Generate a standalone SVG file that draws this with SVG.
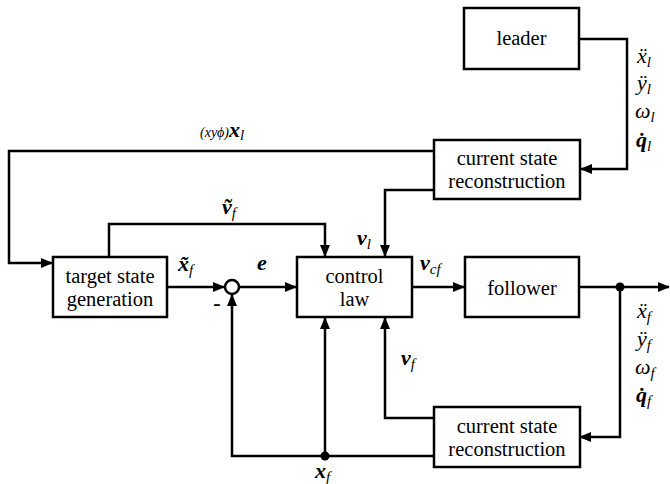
<svg xmlns="http://www.w3.org/2000/svg" width="670" height="484" viewBox="0 0 670 484">
<style>
.box{fill:#fff;stroke:#000;stroke-width:2.5}
.ln{fill:none;stroke:#000;stroke-width:2.5}
text{font-family:'Liberation Serif','Times New Roman',Times,serif;fill:#000}
.t{font-size:20.5px;text-anchor:middle}
.m{font-style:italic;font-size:22px}
.b{font-weight:bold}
.s{font-size:15px}
</style>
<defs>
<marker id="ah" markerWidth="12" markerHeight="10" refX="11" refY="5" orient="auto" markerUnits="userSpaceOnUse">
<path d="M0,0 L12,5 L0,10 Z" fill="#000"/>
</marker>
</defs>
<g id="connectors">
<polyline class="ln" points="579,39 627,39 627,169 581,169" marker-end="url(#ah)"/>
<polyline class="ln" points="434,151 9,151 9,263 52,263" marker-end="url(#ah)"/>
<polyline class="ln" points="434,190 385,190 385,256" marker-end="url(#ah)"/>
<polyline class="ln" points="109,257 109,224 325,224 325,256" marker-end="url(#ah)"/>
<line class="ln" x1="167" y1="287" x2="224" y2="287" marker-end="url(#ah)"/>
<line class="ln" x1="239" y1="287" x2="296" y2="287" marker-end="url(#ah)"/>
<line class="ln" x1="412" y1="287" x2="464" y2="287" marker-end="url(#ah)"/>
<line class="ln" x1="579" y1="287" x2="669" y2="287" marker-end="url(#ah)"/>
<polyline class="ln" points="620,287 620,437 580,437" marker-end="url(#ah)"/>
<polyline class="ln" points="434,418 385,418 385,318" marker-end="url(#ah)"/>
<polyline class="ln" points="434,456 232,456 232,295" marker-end="url(#ah)"/>
<line class="ln" x1="325" y1="456" x2="325" y2="318" marker-end="url(#ah)"/>
<circle cx="620" cy="287" r="4.5" fill="#000"/>
<circle cx="325" cy="456" r="4.5" fill="#000"/>
</g>
<g id="leader">
<rect class="box" x="464" y="8" width="115" height="61"/>
<text class="t" x="521.5" y="45">leader</text>
</g>
<g id="crs_top">
<rect class="box" x="434" y="140" width="146" height="59"/>
<text class="t" x="507" y="165">current state</text>
<text class="t" x="507" y="188">reconstruction</text>
</g>
<g id="target">
<rect class="box" x="53" y="257" width="114" height="60"/>
<text class="t" x="110" y="283">target state</text>
<text class="t" x="110" y="306">generation</text>
</g>
<g id="sum">
<circle cx="232" cy="287" r="7" fill="#fff" stroke="#000" stroke-width="2.5"/>
</g>
<g id="control">
<rect class="box" x="297" y="257" width="115" height="60"/>
<text class="t" x="354.5" y="283">control</text>
<text class="t" x="354.5" y="306">law</text>
</g>
<g id="follower">
<rect class="box" x="465" y="257" width="114" height="60"/>
<text class="t" x="522" y="295">follower</text>
</g>
<g id="crs_bottom">
<rect class="box" x="434" y="407" width="146" height="60"/>
<text class="t" x="507" y="433">current state</text>
<text class="t" x="507" y="456">reconstruction</text>
</g>
<g id="labels">
<text class="m" x="637" y="63">ẍ<tspan class="s" dy="4">l</tspan></text>
<text class="m" x="637" y="90">ÿ<tspan class="s" dy="4">l</tspan></text>
<text class="m" x="635" y="118">ω<tspan class="s" dy="4">l</tspan></text>
<text class="m b" x="636" y="147">q̇<tspan class="s" dy="4" font-weight="normal">l</tspan></text>
<text class="m" x="637" y="318">ẍ<tspan class="s" dy="4">f</tspan></text>
<text class="m" x="637" y="346">ÿ<tspan class="s" dy="4">f</tspan></text>
<text class="m" x="635" y="374">ω<tspan class="s" dy="4">f</tspan></text>
<text class="m b" x="636" y="402">q̇<tspan class="s" dy="4" font-weight="normal">f</tspan></text>
<text class="m" x="200" y="137"><tspan font-size="14px">(xyϕ)</tspan><tspan class="b" font-size="22px">x</tspan><tspan class="s" dy="3">l</tspan></text>
<text class="m b" x="222" y="214">ṽ<tspan class="s" dy="4" font-weight="normal">f</tspan></text>
<text class="m b" x="178" y="271">x̃<tspan class="s" dy="4" font-weight="normal">f</tspan></text>
<text class="m b" x="257" y="270">e</text>
<text class="m b" x="357" y="245">v<tspan class="s" dy="4" font-weight="normal">l</tspan></text>
<text class="m b" x="420" y="270">v<tspan class="s" dy="4" font-weight="normal">cf</tspan></text>
<text class="m b" x="401" y="365">v<tspan class="s" dy="4" font-weight="normal">f</tspan></text>
<text class="m b" x="315" y="478">x<tspan class="s" dy="4" font-weight="normal">f</tspan></text>
<text class="t b" x="217" y="310" style="font-size:22px">-</text>
</g>
</svg>
